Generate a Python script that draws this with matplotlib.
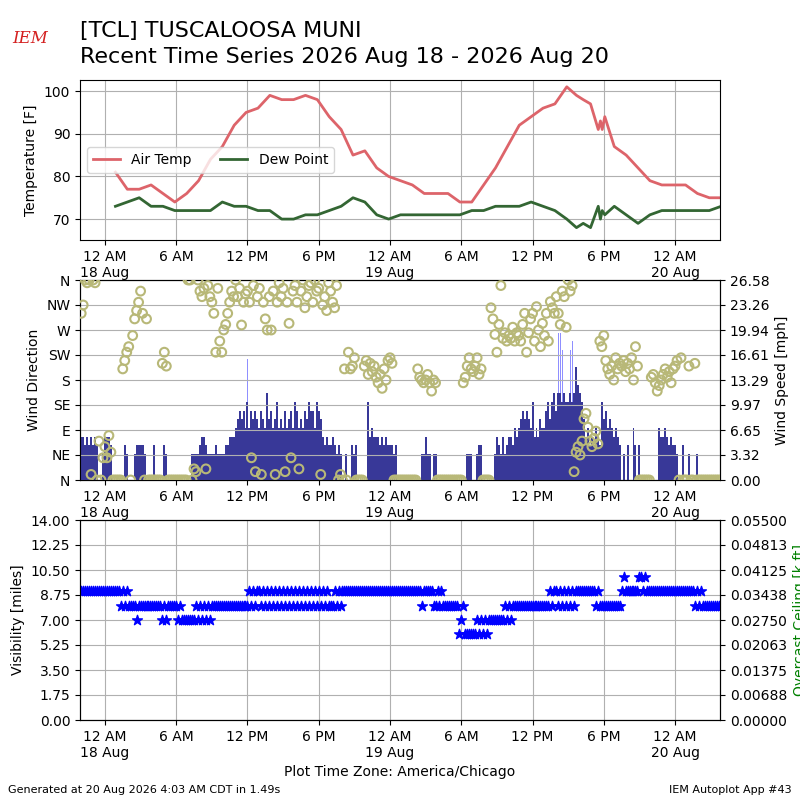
import numpy as np
import pandas as pd
import matplotlib
matplotlib.use("Agg")
import matplotlib.pyplot as plt
import matplotlib.dates as mdates
from matplotlib.ticker import FuncFormatter, FixedLocator

# ---------------- hourly (METAR) observations ----------------
obs_times = [
    "2026-08-18 00:53", "2026-08-18 01:53", "2026-08-18 02:53", "2026-08-18 03:53",
    "2026-08-18 04:53", "2026-08-18 05:53", "2026-08-18 06:53", "2026-08-18 07:53",
    "2026-08-18 08:53", "2026-08-18 09:53", "2026-08-18 10:53", "2026-08-18 11:53",
    "2026-08-18 12:53", "2026-08-18 13:53", "2026-08-18 14:53", "2026-08-18 15:53",
    "2026-08-18 16:53", "2026-08-18 17:53", "2026-08-18 18:53", "2026-08-18 19:53",
    "2026-08-18 20:53", "2026-08-18 21:53", "2026-08-18 22:53", "2026-08-18 23:53",
    "2026-08-19 00:53", "2026-08-19 01:53", "2026-08-19 02:53", "2026-08-19 03:53",
    "2026-08-19 04:53", "2026-08-19 05:53", "2026-08-19 06:53", "2026-08-19 07:53",
    "2026-08-19 08:53", "2026-08-19 09:53", "2026-08-19 10:53", "2026-08-19 11:53",
    "2026-08-19 12:53", "2026-08-19 13:53", "2026-08-19 14:53", "2026-08-19 15:42",
    "2026-08-19 16:16", "2026-08-19 16:53", "2026-08-19 17:32", "2026-08-19 17:43",
    "2026-08-19 17:52", "2026-08-19 18:05", "2026-08-19 18:53", "2026-08-19 19:53",
    "2026-08-19 20:53", "2026-08-19 21:53", "2026-08-19 22:53", "2026-08-19 23:53",
    "2026-08-20 00:53", "2026-08-20 01:53", "2026-08-20 02:53", "2026-08-20 03:53",
]
air_temp = [81, 77, 77, 78, 76, 74, 76, 79, 84, 87, 92, 95, 96, 99, 98, 98,
            99, 98, 94, 91, 85, 86, 82, 80,
            79, 78, 76, 76, 76, 74, 74, 78, 82, 87, 92, 94, 96, 97, 101, 99,
            98, 97, 91, 93, 91, 94, 87, 85, 82, 79, 78, 78,
            78, 76, 75, 75]
dew_point = [73, 74, 75, 73, 73, 72, 72, 72, 72, 74, 73, 73, 72, 72, 70, 70,
             71, 71, 72, 73, 75, 74, 71, 70,
             71, 71, 71, 71, 71, 71, 72, 72, 73, 73, 73, 74, 73, 72, 70, 68,
             69, 68, 73, 70, 72, 71, 73, 71, 69, 71, 72, 72,
             72, 72, 72, 73]

# ---------------- one-minute data, read as 10 minute samples ----------------
# rows: one hour each, starting 17 Aug 22:00
sample_start = "2026-08-17 22:00"
speed_kt_rows = [
    [5, 5, 4, 5, 4, 5], [4, 5, 4, 0, 0, 3], [5, 5, 5, 4, 0, 0], [0, 0, 0, 0, 4, 3],
    [0, 0, 0, 3, 4, 4], [4, 4, 3, 0, 0, 0], [0, 4, 0, 0, 0, 0], [4, 3, 0, 0, 0, 0],
    [0, 0, 0, 0, 0, 0], [0, 0, 3, 3, 3, 3], [4, 5, 5, 4, 3, 3], [3, 3, 4, 3, 3, 3],
    [3, 4, 4, 5, 5, 5], [6, 7, 8, 7, 8, 6], [9, 6, 8, 7, 8, 7], [6, 8, 7, 6, 10, 7],
    [8, 6, 7, 9, 6, 7], [6, 8, 6, 7, 8, 6], [9, 8, 6, 7, 6, 8], [7, 9, 8, 8, 6, 9],
    [8, 7, 5, 4, 5, 4], [4, 5, 4, 3, 4, 3], [0, 0, 3, 0, 0, 4], [3, 4, 0, 0, 0, 0],
    [0, 9, 5, 6, 5, 5], [5, 4, 5, 4, 5, 4], [4, 4, 3, 4, 0, 0], [0, 0, 0, 0, 0, 0],
    [0, 0, 0, 0, 3, 3], [5, 3, 3, 0, 3, 3], [0, 0, 0, 0, 0, 0], [0, 0, 0, 0, 0, 0],
    [0, 0, 0, 3, 3, 3], [0, 0, 3, 4, 4, 0], [0, 0, 0, 0, 0, 3], [5, 4, 3, 5, 3, 4],
    [5, 5, 4, 6, 5, 6], [7, 8, 7, 8, 7, 6], [9, 5, 6, 5, 7, 6], [6, 8, 9, 7, 9, 10],
    [8, 10, 10, 9, 10, 9], [9, 10, 9, 10, 13, 11], [10, 9, 7, 5, 6, 4], [5, 4, 6, 5, 4, 9],
    [7, 8, 6, 7, 6, 5], [6, 5, 4, 0, 3, 0], [4, 0, 0, 6, 4, 0], [4, 0, 0, 0, 0, 0],
    [0, 0, 0, 0, 6, 5], [5, 6, 5, 4, 5, 4], [4, 3, 0, 0, 4, 0], [0, 3, 0, 0, 0, 3],
    [0, 0, 0, 0, 0, 0], [0, 0, 0, 0, 0, 0],
]
drct_rows = [
    [300, 315, 360, 355, 360, 10], [360, 355, 0, 70, 0, 40], [60, 40, 80, 50, 0, 0],
    [0, 0, 0, 200, 215, 230], [240, 0, 260, 290, 305, 320], [340, 300, 0, 290, 0, 0],
    [0, 0, 0, 0, 0, 210], [230, 205, 0, 0, 0, 0], [0, 0, 0, 0, 0, 0],
    [360, 360, 0, 20, 15, 360], [340, 330, 345, 20, 350, 330], [320, 300, 230, 345, 250, 230],
    [270, 280, 300, 320, 340, 330], [360, 330, 345, 279, 320, 335], [340, 320, 40, 350, 15, 330],
    [345, 10, 320, 290, 270, 330], [270, 340, 10, 320, 355, 330], [345, 15, 320, 282, 40, 340],
    [350, 320, 20, 340, 360, 310], [330, 350, 355, 320, 360, 340], [345, 10, 315, 330, 305, 355],
    [340, 320, 310, 350, 0, 10], [0, 200, 0, 230, 200, 205], [220, 0, 0, 0, 0, 205],
    [215, 190, 210, 195, 205, 185], [175, 190, 165, 200, 180, 215], [220, 210, 0, 0, 0, 0],
    [0, 0, 0, 0, 0, 0], [0, 0, 200, 185, 180, 175], [180, 190, 175, 160, 180, 175],
    [0, 0, 0, 0, 0, 0], [0, 0, 0, 0, 0, 0], [0, 175, 185, 205, 220, 200],
    [195, 205, 220, 190, 200, 0], [0, 0, 0, 310, 290, 262], [230, 280, 350, 255, 265, 250],
    [260, 255, 275, 250, 265, 260], [250, 280, 300, 230, 265, 290], [300, 250, 312, 270, 240, 282],
    [260, 300, 250, 321, 310, 300], [330, 300, 280, 340, 330, 275], [360, 340, 350, 15, 50, 60],
    [45, 70, 110, 120, 95, 70], [60, 75, 88, 65, 250, 240], [260, 215, 200, 190, 205, 180],
    [220, 200, 210, 205, 215, 195], [210, 200, 220, 180, 240, 205], [0, 0, 0, 0, 0, 0],
    [185, 190, 175, 160, 170, 180], [190, 200, 185, 195, 175, 200], [205, 215, 0, 220, 0, 0],
    [0, 205, 0, 0, 210, 0], [0, 0, 0, 0, 0, 0], [0, 0, 0, 0, 0, 0],
]
vsby_rows = [
    [9] * 6, [9] * 6, [9] * 6, [9, 9, 8, 9, 8, 9],
    [8, 8, 8, 8, 7, 8], [8] * 6, [8, 8, 8, 8, 8, 7], [8, 7, 8, 8, 8, 8],
    [8, 7, 8, 7, 7, 7], [7, 7, 7, 7, 8, 7], [8, 7, 8, 7, 8, 7], [8] * 6,
    [8] * 6, [8] * 6, [8, 9, 8, 9, 8, 9], [9, 8, 9, 8, 9, 8],
    [9, 8, 9, 8, 9, 8], [9, 8, 9, 8, 9, 8], [9, 8, 9, 8, 9, 8], [9, 8, 9, 8, 9, 8],
    [9, 8, 9, 8, 9, 8], [8, 8, 9, 8, 9, 8], [9] * 6, [9] * 6,
    [9] * 6, [9] * 6, [9] * 6, [9] * 6,
    [9, 9, 9, 9, 8, 9], [9, 9, 9, 9, 8, 8], [9, 8, 9, 8, 8, 8], [8, 8, 8, 8, 8, 6],
    [7, 8, 6, 6, 6, 6], [6, 6, 7, 6, 7, 6], [7, 6, 7, 7, 7, 7], [7, 7, 7, 7, 8, 7],
    [8, 7, 8, 8, 8, 8], [8] * 6, [8] * 6, [8, 8, 8, 9, 8, 9],
    [9, 8, 9, 8, 9, 8], [9, 8, 9, 8, 9, 9], [9] * 6, [9, 9, 8, 9, 8, 8],
    [8] * 6, [8, 8, 8, 9, 10, 9], [9] * 6, [10, 10, 9, 10, 9, 9],
    [9] * 6, [9] * 6, [9] * 6, [9, 9, 9, 9, 8, 9],
    [8, 9, 8, 8, 8, 8], [8] * 6,
]
gust_times = ["2026-08-18 12:00", "2026-08-18 16:00", "2026-08-19 14:10",
              "2026-08-19 14:20", "2026-08-19 14:30", "2026-08-19 15:10",
              "2026-08-19 15:20", "2026-08-19 15:40", "2026-08-19 16:00"]
gust_kt = [14, 14, 17, 17, 15, 15, 16, 22, 18]

KT2MPH = 1.15078
x_start = pd.Timestamp("2026-08-17 21:54")
x_end = pd.Timestamp("2026-08-20 03:47")

speed_mph = np.array(speed_kt_rows, dtype=float).ravel() * KT2MPH
drct = np.array(drct_rows, dtype=float).ravel()
vsby = np.array(vsby_rows, dtype=float).ravel()
sample_times = pd.date_range(sample_start, periods=len(speed_mph), freq="10min")
gust_mph = np.array(gust_kt, dtype=float) * KT2MPH
gust_dt = pd.to_datetime(gust_times)
obs_dt = pd.to_datetime(obs_times)

# ---------------- figure ----------------
fig = plt.figure(figsize=(8, 8), dpi=100)


def time_fmt(x, pos=None):
    d = mdates.num2date(x)
    if d.hour == 0:
        return "12 AM\n" + d.strftime("%d %b")
    return {6: "6 AM", 12: "12 PM", 18: "6 PM"}.get(d.hour, "")


def style_time(ax):
    ax.set_xlim(x_start, x_end)
    ax.xaxis.set_major_locator(mdates.HourLocator(byhour=[0, 6, 12, 18]))
    ax.xaxis.set_major_formatter(FuncFormatter(time_fmt))


# Temperature panel
ax1 = fig.add_axes([0.1, 0.7, 0.8, 0.2])
ax1.plot(obs_dt, air_temp, color="#dd646a", lw=2, label="Air Temp")
ax1.plot(obs_dt, dew_point, color="#336633", lw=2, label="Dew Point")
ax1.set_ylim(65.1, 102.6)
ax1.set_yticks([70, 80, 90, 100])
ax1.set_ylabel("Temperature [F]")
ax1.grid(True)
ax1.legend(loc="center left", ncol=2)
style_time(ax1)

# Wind panel
axs = fig.add_axes([0.1, 0.4, 0.8, 0.25])
bw = 10.0 / 1440.0
gmask = gust_mph > 0
axs.bar(gust_dt[gmask], gust_mph[gmask], width=bw * 0.4, color="#8f8fff", zorder=2, lw=0)
smask = speed_mph > 0
axs.bar(sample_times[smask], speed_mph[smask], width=bw, color="#383898", zorder=3, lw=0)
smax = max(speed_mph.max(), gust_mph.max()) * 1.05
axs.set_ylim(0, smax)
axd = axs.twinx()
axs.yaxis.tick_right()
axs.yaxis.set_label_position("right")
axd.yaxis.tick_left()
axd.yaxis.set_label_position("left")
sticks = np.linspace(0, smax, 9)
axs.yaxis.set_major_locator(FixedLocator(sticks))
axs.yaxis.set_major_formatter(FuncFormatter(lambda v, p: "%.2f" % v))
axs.set_ylabel("Wind Speed [mph]")
axd.scatter(sample_times, drct, s=40, facecolor="none", edgecolor="#b8b878",
            linewidths=1.5, zorder=4)
axd.set_ylim(0, 360)
axd.set_yticks(range(0, 361, 45))
axd.set_yticklabels(["N", "NE", "E", "SE", "S", "SW", "W", "NW", "N"])
axd.set_ylabel("Wind Direction")
axd.grid(True)
style_time(axs)
style_time(axd)

# Visibility panel
axv = fig.add_axes([0.1, 0.1, 0.8, 0.25])
axv.scatter(sample_times, vsby, marker="*", s=55, color="#0000ff", zorder=3)
axv.set_ylim(0, 14)
axv.yaxis.set_major_locator(FixedLocator(np.linspace(0, 14, 9)))
axv.yaxis.set_major_formatter(FuncFormatter(lambda v, p: "%.2f" % v))
axv.set_ylabel("Visibility [miles]")
axv.grid(True)
style_time(axv)
axv.set_xlabel("Plot Time Zone: America/Chicago")
axc = axv.twinx()
axc.set_ylim(0, 0.055)
axc.yaxis.set_major_locator(FixedLocator(np.linspace(0, 0.055, 9)))
axc.yaxis.set_major_formatter(FuncFormatter(lambda v, p: "%.5f" % v))
axc.set_ylabel("Overcast Ceiling [k ft]", color="green")
style_time(axc)

# Titles and footer
fig.text(0.1, 1 - 37 / 800, "[TCL] TUSCALOOSA MUNI", fontsize=16, va="baseline")
fig.text(0.1, 1 - 63 / 800, "Recent Time Series 2026 Aug 18 - 2026 Aug 20",
         fontsize=16, va="baseline")
fig.text(0.0375, 1 - 43 / 800, "IEM", fontsize=12, color="#d42020",
         family="DejaVu Serif", style="italic", ha="center", va="baseline")
fig.text(0.01, 0.013, "Generated at 20 Aug 2026 4:03 AM CDT in 1.49s", fontsize=8,
         va="center")
fig.text(0.99, 0.013, "IEM Autoplot App #43", fontsize=8, ha="right", va="center")

fig.savefig("out.png", dpi=100)
